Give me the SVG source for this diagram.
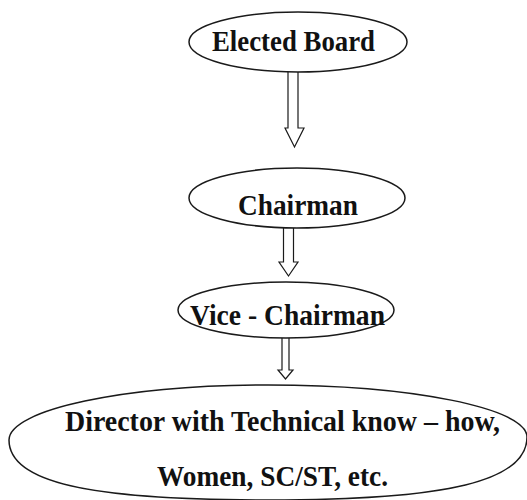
<svg xmlns="http://www.w3.org/2000/svg" width="527" height="500" viewBox="0 0 527 500">
<style>
.n{fill:#fff;stroke:#1a1a1a;stroke-width:1.5}
.t{font-family:"Liberation Serif","Times New Roman",serif;font-weight:bold;font-size:29px;fill:#111;text-anchor:middle}
.a{fill:#fff;stroke:#1a1a1a;stroke-width:1.2;stroke-linejoin:miter}
</style>
<rect width="527" height="500" fill="#fff"/>
<g id="connectors">
<path class="a" d="M288,72 V128 H285 L294.5,147 L304,128 H298 V72"/>
<path class="a" d="M283.5,228 V262 H279 L288.5,276 L298,262 H293.5 V228"/>
<path class="a" d="M282,338 V370 H278 L285.5,379 L293,370 H289 V338"/>
</g>
<g id="elected-board">
<ellipse class="n" cx="298" cy="42" rx="109" ry="30"/>
<text class="t" x="293.5" y="51" textLength="163" lengthAdjust="spacingAndGlyphs">Elected Board</text>
</g>
<g id="chairman">
<ellipse class="n" cx="297" cy="198" rx="108" ry="30"/>
<text class="t" x="298" y="215" textLength="120" lengthAdjust="spacingAndGlyphs">Chairman</text>
</g>
<g id="vice-chairman">
<ellipse class="n" cx="286" cy="310" rx="108" ry="28"/>
<text class="t" x="287.5" y="325" textLength="195" lengthAdjust="spacingAndGlyphs">Vice - Chairman</text>
</g>
<g id="director">
<path class="n" d="M9,440 C9,409.6 125,385 268,385 C411,385 527,408 527,437 C527,481 449,500 268,500 C87,500 9,482 9,440 Z"/>
<text class="t" x="282.5" y="431" textLength="435" lengthAdjust="spacingAndGlyphs">Director with Technical know – how,</text>
<text class="t" x="272.5" y="486" textLength="231" lengthAdjust="spacingAndGlyphs">Women, SC/ST, etc.</text>
</g>
</svg>
